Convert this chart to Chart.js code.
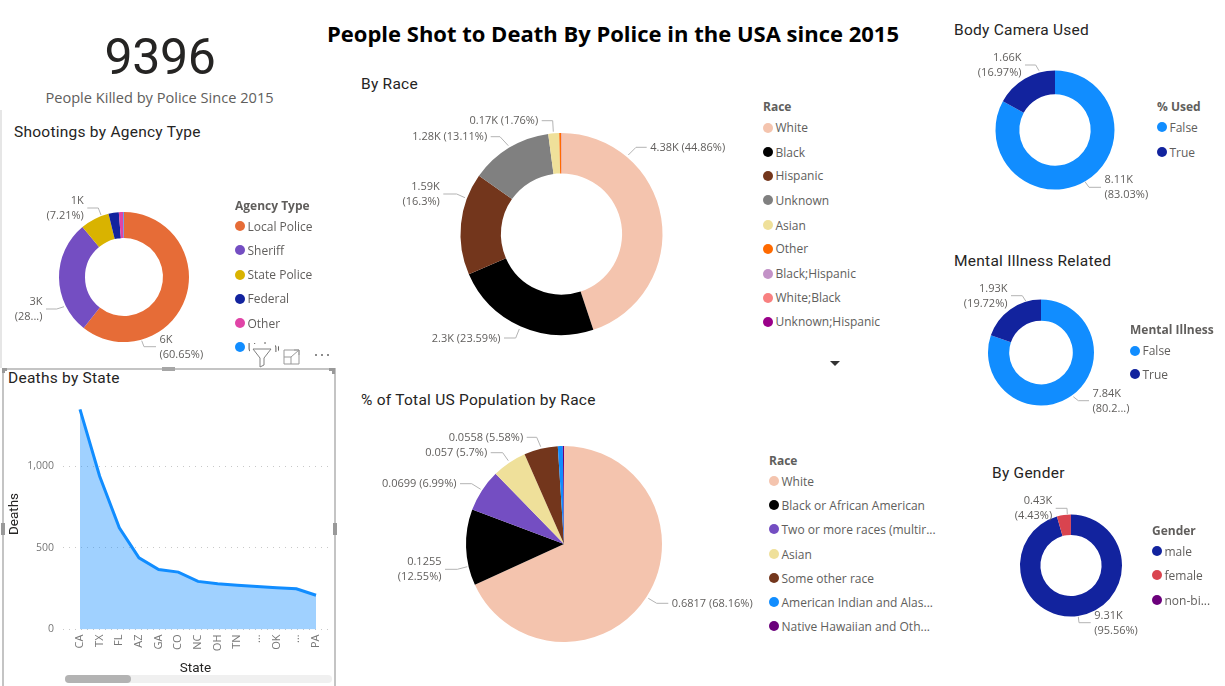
<!DOCTYPE html>
<html>
<head>
<meta charset="utf-8">
<title>People Shot to Death By Police</title>
<script src="https://cdn.jsdelivr.net/npm/chart.js"></script>
<style>
html, body { margin: 0; padding: 0; background: #fff; }
body { position: relative; width: 1225px; height: 686px; overflow: hidden; font-family: "Open Sans", sans-serif; }
canvas { position: absolute; }
.txt { position: absolute; white-space: nowrap; transform: translateY(-50%); line-height: 1; }
.heading { font-family: Roboto, sans-serif; font-size: 15.5px; color: #252423; letter-spacing: 0.25px; }
.legTitle { font-family: "Open Sans", sans-serif; font-size: 12px; font-weight: 700; color: #605E5C; }
.legItem { font-size: 12px; color: #605E5C; }
.dot { position: absolute; width: 10px; height: 10px; border-radius: 50%; }
.box { position: absolute; }
</style>
</head>
<body>
<script>
// Shootings by agency type
const agencyTypes = ['Local Police', 'Sheriff', 'State Police', 'Federal', 'Other', 'Unknown'];
const agencyDeaths = [5699, 2660, 677, 240, 105, 15];
const agencyLabels = [['6K', '(60.65%)'], ['3K', '(28...)'], ['1K', '(7.21%)']];

// Deaths by state
const states = ['CA', 'TX', 'FL', 'AZ', 'GA', 'CO', 'NC', 'OH', 'TN', '…', 'OK', '…', 'PA'];
const stateDeaths = [1350, 940, 624, 440, 368, 352, 295, 280, 272, 264, 256, 250, 210];
const deathTicks = [0, 500, 1000];

// By race
const races = ['White', 'Black', 'Hispanic', 'Unknown', 'Asian', 'Other', 'Black;Hispanic', 'White;Black', 'Unknown;Hispanic'];
const raceDeaths = [4380, 2300, 1590, 1280, 170, 30, 2, 2, 1];
const raceLabels = [['4.38K (44.86%)'], ['2.3K (23.59%)'], ['1.59K', '(16.3%)'], ['1.28K (13.11%)'], ['0.17K (1.76%)']];

// % of total US population by race
const popRaces = ['White', 'Black or African American', 'Two or more races (multir...', 'Asian', 'Some other race', 'American Indian and Alas...', 'Native Hawaiian and Oth...'];
const popShare = [0.6817, 0.1255, 0.0699, 0.057, 0.0558, 0.0082, 0.0019];
const popLabels = [['0.6817 (68.16%)'], ['0.1255', '(12.55%)'], ['0.0699 (6.99%)'], ['0.057 (5.7%)'], ['0.0558 (5.58%)']];

// Body camera, mental illness, gender
const cameraUsed = ['False', 'True'];
const cameraDeaths = [8110, 1660];
const cameraLabels = [['8.11K', '(83.03%)'], ['1.66K', '(16.97%)']];
const mentalIllness = ['False', 'True'];
const mentalDeaths = [7840, 1930];
const mentalLabels = [['7.84K', '(80.2...)'], ['1.93K', '(19.72%)']];
const genders = ['male', 'female', 'non-bi...'];
const genderDeaths = [9310, 430, 3];
const genderLabels = [['9.31K', '(95.56%)'], ['0.43K', '(4.43%)']];

const BLUE = '#118DFF', NAVY = '#12239E', PEACH = '#F4C4AE', BROWN = '#73361C', SAND = '#EFE09A', PURPLE = '#744EC2';
const labelFont = '11px "Open Sans"';

// page text helper
function put(text, x, y, cls, extra) {
    const d = document.createElement('div');
    d.className = 'txt ' + cls;
    d.textContent = text;
    d.style.left = x + 'px';
    d.style.top = y + 'px';
    if (extra) Object.assign(d.style, extra);
    document.body.appendChild(d);
    return d;
}

function rect(x, y, w, h, color, extra) {
    const d = document.createElement('div');
    d.className = 'box';
    Object.assign(d.style, { left: x + 'px', top: y + 'px', width: w + 'px', height: h + 'px', background: color });
    if (extra) Object.assign(d.style, extra);
    document.body.appendChild(d);
    return d;
}

function legend(title, items, colors, titleX, titleY, ys) {
    put(title, titleX, titleY + 0.5, 'legTitle');
    items.forEach((item, i) => {
        const dot = document.createElement('div');
        dot.className = 'dot';
        dot.style.background = colors[i];
        dot.style.left = (titleX) + 'px';
        dot.style.top = (ys[i] - 5) + 'px';
        document.body.appendChild(dot);
        put(item, titleX + 12.5, ys[i] + 0.5, 'legItem');
    });
}

// leader lines and value labels beside the slices
const sliceLabels = {
    id: 'sliceLabels',
    afterDraw(chart, args, opts) {
        const ctx = chart.ctx;
        const ox = chart.canvas.offsetLeft, oy = chart.canvas.offsetTop;
        ctx.save();
        ctx.font = labelFont;
        opts.lines.forEach((pts, i) => {
            ctx.strokeStyle = '#B3B3B3';
            ctx.lineWidth = 1;
            ctx.beginPath();
            pts.forEach((p, k) => k ? ctx.lineTo(p[0] - ox, p[1] - oy) : ctx.moveTo(p[0] - ox, p[1] - oy));
            ctx.stroke();
            const end = pts[pts.length - 1];
            const right = end[0] > pts[0][0];
            ctx.fillStyle = '#605E5C';
            ctx.textAlign = right ? 'left' : 'right';
            ctx.textBaseline = 'middle';
            opts.labels[i].forEach((line, k) => {
                const y = end[1] - oy + (k - (opts.labels[i].length - 1) / 2) * 15 + 0.5;
                ctx.fillText(line, end[0] - ox + (right ? 3.5 : -3.5), y);
            });
        });
        ctx.restore();
    }
};

function pie(cx, cy, w, h, radius, cutout, cats, values, colors, labels, lines) {
    const canvas = document.createElement('canvas');
    canvas.style.left = (cx - w / 2) + 'px';
    canvas.style.top = (cy - h / 2) + 'px';
    canvas.width = w;
    canvas.height = h;
    canvas.style.width = w + 'px';
    canvas.style.height = h + 'px';
    document.body.appendChild(canvas);
    return new Chart(canvas.getContext('2d'), {
        type: 'doughnut',
        data: {
            labels: cats,
            datasets: [{ data: values, backgroundColor: colors, borderWidth: 0 }]
        },
        options: {
            responsive: false,
            animation: false,
            radius: radius,
            cutout: cutout,
            plugins: {
                legend: { display: false },
                tooltip: { enabled: false },
                sliceLabels: { labels: labels, lines: lines }
            }
        },
        plugins: [sliceLabels]
    });
}

// Page headings
put('People Shot to Death By Police in the USA since 2015', 613, 32.5, '', { transform: 'translate(-50%,-50%)', fontFamily: '"Open Sans"', fontWeight: 700, fontSize: '22px', color: '#000' });
put('9396', 160, 57, '', { transform: 'translate(-50%,-50%)', fontFamily: 'Roboto', fontWeight: 400, fontSize: '50px', letterSpacing: '-0.4px', color: '#252423' });
put('People Killed by Police Since 2015', 159.5, 97, '', { transform: 'translate(-50%,-50%)', fontFamily: '"Open Sans"', fontSize: '14.6px', color: '#605E5C' });
put('Shootings by Agency Type', 14, 132.5, 'heading');
put('Deaths by State', 8, 378.5, 'heading');
put('By Race', 361, 84.5, 'heading');
put('% of Total US Population by Race', 361, 400.5, 'heading');
put('Body Camera Used', 954, 31, 'heading');
put('Mental Illness Related', 954, 261.5, 'heading');
put('By Gender', 992, 473.5, 'heading');

// Donuts
const agencyColors = ['#E66C37', PURPLE, '#D9B300', NAVY, '#E044A7', BLUE];
pie(124, 277, 248, 180, 65, '60%', agencyTypes, agencyDeaths, agencyColors, agencyLabels, [
    [[141.7, 340.7], [144, 346.7], [156, 346.7]],
    [[64, 306.7], [56.7, 309], [46, 309]],
    [[101, 215], [98.3, 208], [87.3, 208]]
]);
legend('Agency Type', agencyTypes, agencyColors, 235, 205, [226, 250, 274.5, 298.5, 323, 347]);

const raceColors = [PEACH, '#000000', BROWN, '#808080', SAND, '#FF6A00', '#C392C7', '#F88080', '#9A0089'];
pie(561.5, 234, 351, 250, 101, '60%', races, raceDeaths, raceColors, raceLabels, [
    [[628.3, 155], [636, 147.3], [646.7, 147.3]],
    [[519.3, 329], [515.7, 338], [504, 338]],
    [[465, 197.7], [456.7, 194], [443.3, 194]],
    [[508.3, 145.7], [500, 136.7], [490.7, 136.7]],
    [[553.3, 131.7], [552.7, 120.7], [541.7, 120.7]]
]);
legend('Race', races, raceColors, 763, 106, [127.5, 152, 175.5, 200, 225, 248.5, 273.5, 297.5, 321.5]);

const popColors = [PEACH, '#000000', PURPLE, SAND, BROWN, BLUE, '#6B007B'];
pie(564, 544, 380, 240, 98, 0, popRaces, popShare, popColors, popLabels, [
    [[648.3, 598.3], [656.7, 603.3], [668.3, 603.3]],
    [[467.3, 566.7], [457.3, 569.3], [445, 569.3]],
    [[480.7, 489.3], [471.7, 483.7], [460, 483.7]],
    [[508.3, 460.7], [502.7, 452.7], [490.7, 452.7]],
    [[540.7, 446.7], [536.7, 437.3], [526.7, 437.3]]
]);
legend('Race', popRaces, popColors, 769, 460, [481, 505, 529, 554, 578, 602, 626]);

const twoColors = [BLUE, NAVY];
pie(1055, 130, 190, 180, 59.5, '60%', cameraUsed, cameraDeaths, twoColors, cameraLabels, [
    [[1085, 181.7], [1089, 187.3], [1101, 187.3]],
    [[1039, 70.7], [1035.7, 65], [1025, 65]]
]);
legend('% Used', cameraUsed, twoColors, 1157, 106, [127, 152]);

pie(1041, 352.5, 200, 145, 53, '60%', mentalIllness, mentalDeaths, twoColors, mentalLabels, [
    [[1073.3, 396.7], [1078.3, 400.7], [1089, 400.7]],
    [[1025.7, 301], [1022.3, 295.7], [1011, 295.7]]
]);
legend('Mental Illness', mentalIllness, twoColors, 1130, 329, [350.5, 374]);

const genderColors = [NAVY, '#D9444F', '#6B007B'];
pie(1071, 565.5, 180, 155, 51, '60%', genders, genderDeaths, genderColors, genderLabels, [
    [[1078.3, 616.7], [1079, 622.7], [1090.7, 622.7]],
    [[1067.3, 514.3], [1067, 508.3], [1055.7, 508.3]]
]);
legend('Gender', genders, genderColors, 1152, 530, [551, 575, 600]);

// more-items arrow under the race legend
rect(830, 361, 10, 5, '#333', { clipPath: 'polygon(0 0, 100% 0, 50% 100%)' });

// Deaths by state area chart
const areaCanvas = document.createElement('canvas');
Object.assign(areaCanvas.style, { left: '3px', top: '369px', width: '332px', height: '312px' });
areaCanvas.width = 332;
areaCanvas.height = 312;
document.body.appendChild(areaCanvas);
new Chart(areaCanvas.getContext('2d'), {
    type: 'line',
    data: {
        datasets: [{
            data: stateDeaths.map((d, i) => ({ x: i, y: d })),
            borderColor: BLUE,
            borderWidth: 3,
            backgroundColor: 'rgba(17,141,255,0.4)',
            fill: 'origin',
            pointRadius: 0,
            tension: 0,
            clip: false
        }]
    },
    options: {
        responsive: false,
        animation: false,
        layout: { padding: { top: 29.5, right: 7, left: 0, bottom: 0 } },
        plugins: { legend: { display: false }, tooltip: { enabled: false } },
        scales: {
            x: {
                type: 'linear',
                min: -0.864,
                max: 12.61,
                afterFit: s => { s.height = 51.5; },
                grid: { display: false, drawTicks: false },
                border: { display: false },
                ticks: {
                    stepSize: 1,
                    includeBounds: false,
                    autoSkip: false,
                    minRotation: 90,
                    maxRotation: 90,
                    padding: 5,
                    color: '#777',
                    font: { family: '"Open Sans"', size: 11 },
                    callback: v => states[v]
                },
                title: { display: true, text: 'State', color: '#252423', font: { family: 'Roboto', size: 13.5 }, padding: { top: 0, bottom: 4 } }
            },
            y: {
                min: 0,
                max: 1417,
                afterFit: s => { s.width = 60; },
                afterBuildTicks: s => { s.ticks = deathTicks.map(v => ({ value: v })); },
                grid: { color: '#C8C8C8', drawTicks: false },
                border: { display: false, dash: [1, 5] },
                ticks: {
                    padding: 9,
                    color: '#777',
                    font: { family: '"Open Sans"', size: 10.5 },
                    callback: v => v.toLocaleString('en-US')
                },
                title: { display: true, text: 'Deaths', color: '#252423', font: { family: 'Roboto', size: 13.5 }, padding: { top: 4, bottom: 0 } }
            }
        }
    }
});

// Selected visual frame, handles and scroll bar
const frame = '#C4C4C4';
rect(2, 368, 333, 1.5, frame);
rect(2, 368, 1.5, 318, frame);
rect(334, 368, 1.5, 318, frame);
rect(162, 367, 13, 4, '#A6A6A6');
rect(1, 523, 3.5, 12, '#999');
rect(333, 523, 3.5, 12, '#999');
rect(2, 368, 5, 3, '#999');
rect(2, 368, 3, 5, '#999');
rect(329, 368, 6, 3, '#999');
rect(332, 368, 3, 6, '#999');
rect(0, 110, 1.5, 258, '#E6E6E6');
rect(65, 675, 267, 7.5, '#F0F0F0', { borderRadius: '4px' });
rect(65, 675, 66, 7.5, '#B3B3B3', { borderRadius: '4px' });

// Visual header icons over the agency legend
rect(250, 344, 25, 23, '#fff');
rect(279, 344, 56, 23, '#fff');
const icons = document.createElementNS('http://www.w3.org/2000/svg', 'svg');
icons.setAttribute('width', '90');
icons.setAttribute('height', '26');
icons.style.cssText = 'position:absolute;left:248px;top:344px';
icons.innerHTML = '<path d="M5 5 H23 L16 14 V21 L12 23 V14 Z" fill="none" stroke="#808080" stroke-width="1"/>' +
    '<path d="M36 6 H51 M36 6 V20 H51 V6 M36 13 H43 V20 M43 13 L51 6 M46 6 H51 V11" fill="none" stroke="#999" stroke-width="1"/>' +
    '<circle cx="68" cy="11" r="1" fill="#666"/><circle cx="74" cy="11" r="1" fill="#666"/><circle cx="80" cy="11" r="1" fill="#666"/>';
document.body.appendChild(icons);
</script>
</body>
</html>
